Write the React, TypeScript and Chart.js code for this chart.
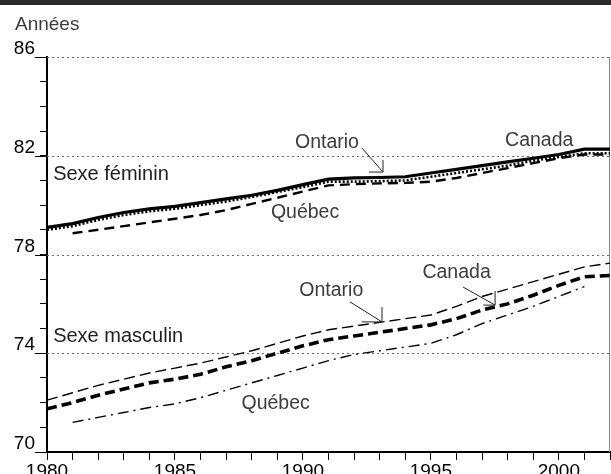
import { useEffect, useRef } from "react";
import { Chart, registerables } from "chart.js";

Chart.register(...registerables);

const years = [1980, 1981, 1982, 1983, 1984, 1985, 1986, 1987, 1988, 1989, 1990, 1991, 1992, 1993, 1994, 1995, 1996, 1997, 1998, 1999, 2000, 2001, 2002];

const femCanada = [79.1, 79.25, 79.5, 79.7, 79.85, 79.95, 80.1, 80.25, 80.4, 80.6, 80.83, 81.05, 81.1, 81.12, 81.15, 81.3, 81.45, 81.6, 81.75, 81.9, 82.05, 82.27, 82.27];
const femOntario = [79.0, 79.15, 79.4, 79.6, 79.75, 79.85, 80.0, 80.15, 80.33, 80.53, 80.73, 80.95, 80.95, 80.97, 81.0, 81.15, 81.3, 81.45, 81.6, 81.8, 81.95, 82.1, 82.1];
const femQuebec = [null, 78.86, 79.0, 79.15, 79.3, 79.45, 79.6, 79.8, 80.05, 80.3, 80.55, 80.8, 80.85, 80.88, 80.9, 80.95, 81.1, 81.3, 81.5, 81.7, 81.9, 82.05, 82.05];

const maleCanada = [71.75, 72.0, 72.3, 72.55, 72.8, 72.95, 73.15, 73.45, 73.7, 74.0, 74.3, 74.55, 74.7, 74.85, 75.0, 75.15, 75.4, 75.75, 76.0, 76.35, 76.75, 77.1, 77.15];
const maleOntario = [72.1, 72.4, 72.7, 72.95, 73.2, 73.4, 73.6, 73.85, 74.1, 74.4, 74.7, 74.95, 75.1, 75.25, 75.4, 75.55, 75.9, 76.3, 76.6, 76.9, 77.2, 77.5, 77.65];
const maleQuebec = [null, 71.2, 71.4, 71.6, 71.8, 71.95, 72.2, 72.5, 72.8, 73.1, 73.4, 73.7, 73.95, 74.1, 74.25, 74.4, 74.75, 75.2, 75.55, 75.9, 76.3, 76.7, null];

const yTickLabels = [70, 74, 78, 82, 86];
const xTickLabels = [1980, 1985, 1990, 1995, 2000];
const dottedLevels = [74, 78, 82, 86];

const axisTitle = "Années";
const groupLabels = [
  { text: "Sexe féminin", x: 1980.24, y: 81.02 },
  { text: "Sexe masculin", x: 1980.24, y: 74.45 },
];
const seriesLabels = [
  { text: "Ontario", x: 1989.69, y: 82.31, leader: [1992.31, 82.31, 1993.13, 81.34], hook: [1992.58, 81.83] },
  { text: "Canada", x: 1997.9, y: 82.39 },
  { text: "Québec", x: 1988.75, y: 79.48 },
  { text: "Ontario", x: 1989.86, y: 76.32, leader: [1991.84, 76.08, 1993.09, 75.27], hook: [1992.3, 75.87] },
  { text: "Canada", x: 1994.67, y: 77.05, leader: [1996.26, 76.68, 1997.51, 75.95], hook: [1997.05, 76.52] },
  { text: "Québec", x: 1987.6, y: 71.74 },
];

const FONT = "'Liberation Sans', Arial, sans-serif";

const toPoints = (arr: (number | null)[]) => years.map((yr, i) => ({ x: yr, y: arr[i] }));

const decorPlugin = {
  id: "decor",
  beforeDatasetsDraw(chart: any) {
    const { ctx, chartArea, scales } = chart;
    const ys = scales.y;
    ctx.save();
    ctx.strokeStyle = "#6e6e6e";
    ctx.lineWidth = 1;
    ctx.setLineDash([2, 3]);
    for (const lv of dottedLevels) {
      const py = Math.round(ys.getPixelForValue(lv)) + 0.5;
      ctx.beginPath();
      ctx.moveTo(chartArea.left, py);
      ctx.lineTo(chartArea.right, py);
      ctx.stroke();
    }
    ctx.setLineDash([]);
    ctx.strokeStyle = "#8a8a8a";
    ctx.beginPath();
    ctx.moveTo(chartArea.right - 0.5, chartArea.top);
    ctx.lineTo(chartArea.right - 0.5, chartArea.bottom);
    ctx.stroke();
    ctx.strokeStyle = "#000";
    ctx.lineWidth = 1;
    for (const lv of yTickLabels) {
      const py = Math.round(ys.getPixelForValue(lv)) + 0.5;
      ctx.beginPath();
      ctx.moveTo(chartArea.left - 12, py);
      ctx.lineTo(chartArea.left, py);
      ctx.stroke();
    }
    ctx.restore();
  },
  afterDraw(chart: any) {
    const { ctx, scales, width } = chart;
    const xs = scales.x;
    const ys = scales.y;
    ctx.save();
    ctx.fillStyle = "#2a2a2a";
    ctx.fillRect(0, 0, width, 5);
    ctx.fillStyle = "#3c3c3c";
    ctx.font = `19px ${FONT}`;
    ctx.textBaseline = "alphabetic";
    ctx.textAlign = "left";
    ctx.fillText(axisTitle, 15, 30);
    ctx.fillStyle = "#1e1e1e";
    ctx.font = `20px ${FONT}`;
    for (const g of groupLabels) {
      ctx.fillText(g.text, xs.getPixelForValue(g.x), ys.getPixelForValue(g.y));
    }
    ctx.fillStyle = "#3c3c3c";
    ctx.font = `19.5px ${FONT}`;
    for (const s of seriesLabels) {
      ctx.fillText(s.text, xs.getPixelForValue(s.x), ys.getPixelForValue(s.y));
      if (s.leader) {
        const [x1, y1, x2, y2] = s.leader;
        const px2 = xs.getPixelForValue(x2);
        const py2 = ys.getPixelForValue(y2);
        ctx.strokeStyle = "#222";
        ctx.lineWidth = 1;
        ctx.beginPath();
        ctx.moveTo(xs.getPixelForValue(x1), ys.getPixelForValue(y1));
        ctx.lineTo(px2, py2);
        ctx.stroke();
        if (s.hook) {
          ctx.beginPath();
          ctx.moveTo(xs.getPixelForValue(s.hook[0]), py2);
          ctx.lineTo(px2, py2);
          ctx.lineTo(px2, ys.getPixelForValue(s.hook[1]));
          ctx.stroke();
        }
      }
    }
    ctx.restore();
  },
};

export default function App() {
  const ref = useRef<HTMLCanvasElement | null>(null);

  useEffect(() => {
    if (!ref.current) return;
    const base = { pointRadius: 0, borderColor: "#000", fill: false, tension: 0, spanGaps: false };
    const chart = new Chart(ref.current, {
      type: "line",
      data: {
        datasets: [
          { ...base, label: "Canada F", data: toPoints(femCanada), borderWidth: 3.2 },
          { ...base, label: "Ontario F", data: toPoints(femOntario), borderWidth: 2.6, borderDash: [2, 2] },
          { ...base, label: "Québec F", data: toPoints(femQuebec), borderWidth: 2.4, borderDash: [10, 6] },
          { ...base, label: "Canada M", data: toPoints(maleCanada), borderWidth: 3.6, borderDash: [10, 5] },
          { ...base, label: "Ontario M", data: toPoints(maleOntario), borderWidth: 1.4, borderDash: [11, 5] },
          { ...base, label: "Québec M", data: toPoints(maleQuebec), borderWidth: 1.4, borderDash: [11, 5, 2, 5] },
        ] as any,
      },
      options: {
        animation: false,
        responsive: false,
        maintainAspectRatio: false,
        layout: { padding: { top: 57, right: 1, left: 0, bottom: 0 } },
        plugins: { legend: { display: false }, tooltip: { enabled: false } },
        scales: {
          x: {
            type: "linear",
            min: 1980,
            max: 2002,
            ticks: {
              stepSize: 1,
              autoSkip: false,
              maxRotation: 0,
              padding: 0,
              color: "#000",
              font: { size: 19, family: FONT },
              callback: (v: any) => (xTickLabels.includes(Number(v)) ? String(v) : ""),
            },
            grid: { drawOnChartArea: false, drawTicks: true, tickLength: 8, tickColor: "#000", color: "#000" },
            border: { color: "#000", width: 2 },
            afterFit: (s: any) => {
              s.height = 22;
            },
          },
          y: {
            type: "linear",
            min: 70,
            max: 86,
            ticks: {
              stepSize: 1,
              autoSkip: false,
              padding: 5,
              labelOffset: -8,
              color: "#000",
              font: { size: 19, family: FONT },
              callback: (v: any) => (yTickLabels.includes(Number(v)) ? String(v) : ""),
            },
            grid: { drawOnChartArea: false, drawTicks: true, tickLength: 7, tickColor: "#000", color: "#000" },
            border: { color: "#000", width: 2 },
            afterFit: (s: any) => {
              s.width = 47;
            },
          },
        },
      } as any,
      plugins: [decorPlugin],
    });
    return () => chart.destroy();
  }, []);

  return (
    <div style={{ position: "fixed", left: 0, top: 0, width: 611, height: 474, background: "#fff" }}>
      <canvas ref={ref} width={611} height={474} style={{ display: "block", width: 611, height: 474 }} />
    </div>
  );
}
